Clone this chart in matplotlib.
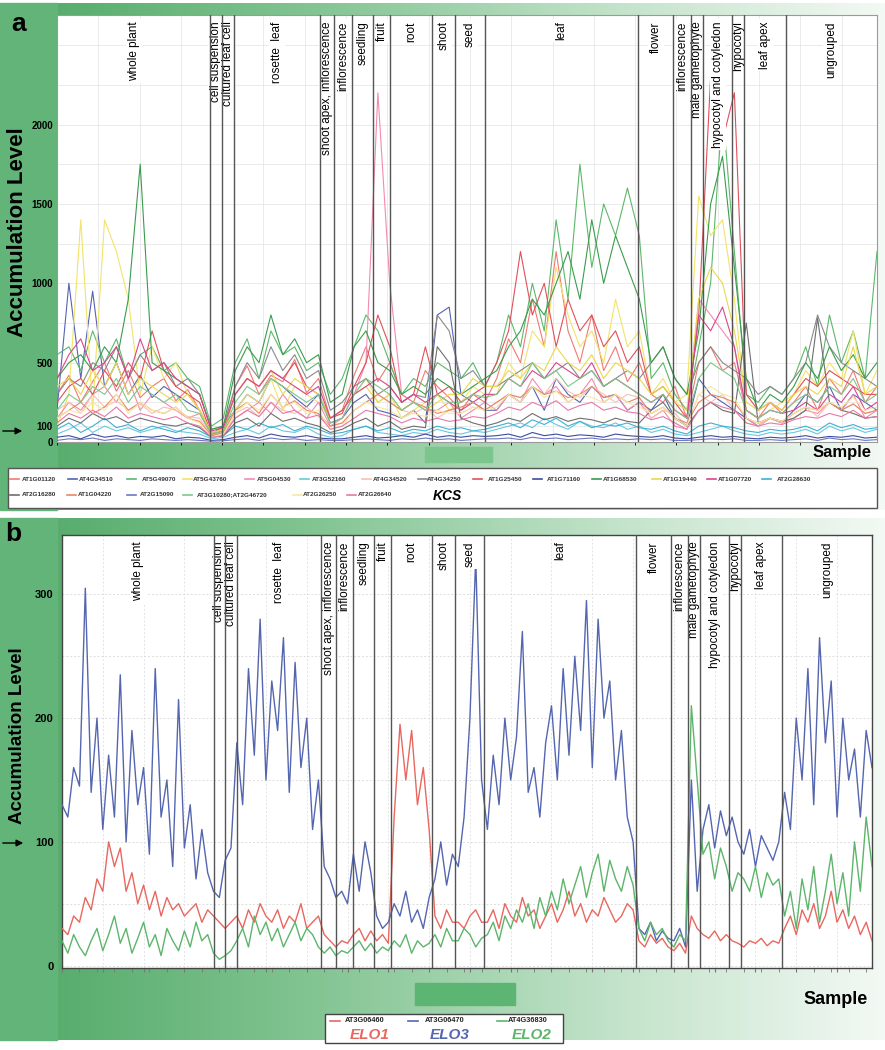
import numpy as np
import matplotlib.pyplot as plt
from matplotlib.colors import LinearSegmentedColormap
from matplotlib.lines import Line2D
from matplotlib.patches import Rectangle
from matplotlib.ticker import MultipleLocator
import matplotlib.transforms as mtrans

plt.rcParams['font.family'] = ['Liberation Sans', 'DejaVu Sans']

W, H = 885, 1050

tissues = ['whole plant', 'cell suspension', 'cultured leaf cell', 'rosette  leaf',
           'shoot apex, inflorescence', 'inflorescence', 'seedling', 'fruit', 'root',
           'shoot', 'seed', 'leaf', 'flower', 'inflorescence', 'male gametophyte',
           'hypocotyl and cotyledon', 'hypocotyl', 'leaf apex', 'ungrouped']
# section borders on the sample axis
borders = [0, 26, 28, 30, 44.5, 47, 50, 53.5, 56.5, 63.5, 67.5, 72.5, 98.5,
           104.5, 107.5, 109.5, 114.5, 116.5, 123.5, 139]

# ---- panel a : KCS genes (70 samples each) ----
at1g01120 = [300, 420, 250, 380, 500, 320, 450, 280, 350, 400, 260, 330, 200, 60, 80,
             350, 480, 300, 420, 380, 520, 310, 400, 150, 200, 420, 600, 380, 500, 300, 250, 450,
             350, 280, 200, 300, 250, 400, 650, 500, 900, 600, 1200, 700, 500, 800, 450, 600, 380, 500,
             300, 250, 350, 150, 500, 600, 450, 500, 200, 150, 250, 180,
             250, 350, 200, 400, 300, 450, 250, 350]
at4g34510 = [200, 1000, 400, 950, 350, 500, 300, 420, 280, 350, 300, 250, 200, 50, 100,
             200, 300, 250, 400, 350, 280, 220, 300, 120, 150, 250, 300, 200, 180, 150, 200, 120,
             800, 850, 300, 250, 200, 200, 300, 250, 350, 200, 400, 300, 250, 350, 280, 300, 200, 250,
             200, 300, 150, 100, 400, 300, 250, 200, 150, 100, 150, 120,
             200, 300, 250, 350, 200, 300, 250, 200]
at5g49070 = [550, 600, 450, 700, 500, 650, 400, 550, 600, 450, 500, 400, 350, 100, 150,
             500, 650, 400, 700, 550, 600, 450, 500, 300, 400, 600, 800, 700, 500, 300, 400, 350,
             500, 450, 400, 500, 350, 500, 800, 600, 1000, 700, 1400, 900, 1750, 1100, 1500, 1300, 1600, 1300,
             400, 500, 300, 200, 600, 1000, 2100, 1200, 300, 250, 350, 300,
             400, 600, 350, 800, 500, 700, 400, 1200]
at5g43760 = [100, 300, 1400, 200, 1400, 1200, 900, 300, 600, 400, 500, 300, 200, 50, 80,
             200, 300, 250, 400, 200, 350, 300, 250, 150, 200, 300, 400, 250, 300, 150, 200, 250,
             300, 200, 250, 350, 300, 300, 500, 400, 700, 600, 1100, 800, 600, 700, 500, 900, 600, 700,
             300, 400, 250, 300, 1550, 1300, 1400, 900, 200, 150, 200, 250,
             300, 450, 350, 500, 400, 700, 300, 450]
at5g04530 = [150, 250, 200, 300, 350, 250, 400, 200, 300, 250, 200, 150, 180, 40, 60,
             150, 200, 250, 180, 300, 200, 150, 250, 100, 150, 300, 500, 2200, 1000, 300, 250, 200,
             200, 250, 150, 200, 250, 200, 300, 250, 400, 300, 350, 250, 300, 400, 250, 300, 200, 250,
             150, 200, 100, 80, 900, 800, 700, 600, 150, 100, 150, 120,
             150, 200, 180, 250, 200, 300, 150, 200]
at3g52160 = [50, 80, 120, 60, 100, 70, 90, 60, 80, 100, 70, 60, 50, 20, 30,
             60, 80, 50, 100, 70, 60, 90, 50, 30, 40, 80, 100, 60, 50, 40, 60, 50,
             80, 60, 50, 70, 60, 80, 100, 120, 90, 150, 110, 80, 130, 100, 90, 120, 80, 100,
             60, 80, 50, 40, 60, 80, 100, 70, 50, 40, 60, 50,
             60, 80, 50, 100, 70, 90, 60, 80]
at4g34520 = [200, 250, 180, 300, 220, 260, 200, 240, 180, 220, 200, 160, 150, 40, 60,
             180, 220, 160, 250, 200, 180, 220, 160, 100, 120, 200, 250, 300, 250, 200, 180, 220,
             150, 200, 180, 220, 200, 250, 300, 280, 350, 300, 400, 320, 280, 350, 300, 250, 300, 280,
             150, 200, 180, 100, 300, 250, 300, 200, 120, 100, 150, 120,
             180, 220, 160, 250, 200, 240, 180, 200]
at4g34250 = [300, 400, 350, 500, 450, 600, 400, 550, 450, 500, 350, 400, 300, 80, 100,
             350, 500, 400, 600, 450, 550, 400, 450, 200, 250, 350, 400, 300, 350, 250, 300, 280,
             800, 700, 400, 450, 350, 350, 400, 450, 500, 400, 450, 500, 400, 450, 350, 400, 450, 400,
             500, 600, 400, 300, 500, 600, 500, 450, 400, 300, 350, 300,
             400, 500, 800, 600, 500, 450, 400, 350]
at1g25450 = [250, 350, 400, 300, 450, 350, 500, 400, 700, 450, 350, 300, 250, 50, 70,
             300, 400, 350, 450, 400, 500, 350, 300, 150, 180, 350, 500, 800, 600, 250, 300, 600,
             300, 350, 250, 300, 350, 500, 700, 1200, 800, 1000, 600, 900, 700, 800, 600, 700, 500, 600,
             300, 350, 250, 150, 800, 2300, 1900, 2200, 300, 200, 250, 200,
             300, 400, 350, 450, 400, 350, 300, 300]
at1g71160 = [30, 40, 20, 50, 30, 40, 25, 35, 30, 40, 20, 30, 25, 10, 15,
             30, 40, 25, 50, 35, 30, 40, 25, 20, 20, 30, 40, 25, 30, 40, 30, 50,
             30, 40, 30, 40, 35, 40, 50, 30, 60, 40, 50, 35, 45, 40, 30, 50, 40, 35,
             30, 40, 25, 20, 30, 40, 30, 35, 25, 20, 30, 25,
             30, 40, 25, 35, 30, 40, 25, 30]
at1g68530 = [400, 500, 550, 450, 600, 500, 900, 1750, 500, 450, 400, 350, 300, 80, 100,
             450, 600, 500, 800, 550, 650, 500, 550, 250, 300, 600, 700, 500, 450, 300, 350, 300,
             400, 350, 300, 350, 400, 450, 600, 700, 900, 800, 1000, 1200, 900, 1400, 1000, 1300, 1100, 900,
             500, 600, 400, 300, 700, 1500, 1800, 1100, 400, 200, 300, 250,
             350, 500, 400, 600, 450, 550, 400, 500]
at1g19440 = [350, 400, 300, 450, 350, 500, 300, 400, 350, 300, 250, 300, 200, 60, 80,
             300, 400, 350, 450, 300, 400, 350, 300, 150, 200, 300, 350, 250, 300, 200, 250, 200,
             250, 300, 300, 400, 350, 350, 450, 400, 500, 450, 600, 500, 450, 550, 400, 500, 450, 400,
             300, 350, 250, 200, 900, 1100, 1000, 700, 250, 200, 250, 200,
             300, 350, 300, 400, 350, 600, 300, 350]
at1g07720 = [400, 550, 650, 450, 500, 600, 400, 650, 450, 500, 400, 350, 300, 70, 90,
             300, 400, 350, 450, 400, 350, 300, 350, 150, 200, 300, 350, 400, 350, 250, 300, 250,
             300, 250, 200, 250, 300, 300, 400, 350, 450, 400, 500, 450, 400, 500, 350, 400, 350, 300,
             250, 300, 200, 150, 800, 700, 850, 600, 200, 150, 200, 180,
             200, 250, 200, 300, 250, 350, 200, 250]
at2g28630 = [80, 120, 60, 100, 150, 90, 110, 70, 100, 80, 60, 90, 70, 30, 40,
             100, 80, 120, 90, 110, 70, 100, 80, 50, 60, 80, 100, 70, 90, 60, 80, 70,
             100, 80, 90, 70, 80, 100, 120, 90, 140, 110, 150, 100, 130, 90, 110, 100, 120, 90,
             80, 100, 70, 50, 100, 120, 100, 90, 70, 60, 80, 70,
             80, 100, 70, 120, 90, 110, 80, 90]
at2g16280 = [100, 150, 120, 180, 140, 160, 120, 150, 130, 110, 100, 120, 90, 30, 40,
             120, 150, 100, 180, 130, 150, 120, 100, 60, 80, 120, 150, 100, 130, 80, 100, 90,
             600, 500, 150, 120, 100, 120, 150, 130, 180, 140, 160, 130, 150, 140, 120, 150, 130, 120,
             200, 250, 150, 100, 200, 250, 200, 180, 750, 120, 150, 130,
             150, 200, 780, 250, 200, 180, 150, 160]
at1g04220 = [150, 200, 250, 180, 220, 300, 200, 250, 200, 180, 220, 150, 130, 40, 60,
             200, 250, 180, 300, 220, 260, 200, 180, 100, 120, 200, 250, 300, 250, 200, 250, 220,
             180, 200, 220, 250, 200, 250, 300, 280, 350, 300, 320, 280, 300, 350, 280, 300, 250, 280,
             180, 220, 150, 120, 250, 300, 280, 250, 150, 120, 150, 130,
             180, 220, 200, 250, 200, 240, 180, 200]
at2g15090 = [10, 20, 15, 25, 10, 20, 15, 10, 20, 15, 10, 15, 10, 5, 8,
             15, 20, 10, 25, 15, 20, 10, 15, 10, 10, 15, 20, 15, 10, 20, 15, 25,
             15, 20, 10, 15, 20, 20, 25, 15, 30, 20, 25, 15, 20, 25, 15, 20, 15, 20,
             15, 20, 10, 10, 15, 20, 15, 20, 10, 10, 15, 10,
             15, 20, 10, 25, 15, 20, 10, 15]
at3g10280 = [200, 300, 250, 350, 300, 400, 250, 350, 300, 250, 300, 200, 180, 50, 70,
             250, 350, 300, 400, 350, 300, 250, 300, 120, 150, 300, 400, 350, 300, 200, 250, 200,
             300, 250, 250, 300, 280, 300, 400, 350, 500, 400, 450, 350, 400, 450, 350, 400, 350, 300,
             250, 300, 200, 150, 400, 500, 450, 400, 200, 150, 200, 180,
             250, 300, 250, 350, 300, 400, 250, 300]
at2g26250 = [150, 200, 180, 250, 200, 300, 180, 250, 200, 180, 220, 150, 120, 30, 50,
             180, 250, 200, 300, 220, 250, 180, 200, 80, 100, 200, 250, 220, 200, 150, 180, 160,
             200, 180, 180, 220, 200, 220, 300, 250, 350, 280, 320, 250, 300, 280, 250, 300, 250, 220,
             180, 220, 150, 100, 300, 350, 300, 280, 150, 120, 150, 130,
             180, 220, 200, 250, 220, 280, 200, 220]
at2g26640 = [120, 180, 150, 200, 160, 220, 150, 180, 160, 140, 160, 120, 100, 30, 40,
             150, 200, 160, 250, 180, 200, 150, 170, 80, 100, 150, 200, 180, 160, 120, 150, 130,
             150, 130, 140, 160, 150, 180, 220, 200, 250, 220, 260, 200, 230, 250, 200, 220, 190, 180,
             140, 160, 120, 80, 200, 250, 220, 200, 120, 100, 120, 110,
             140, 160, 150, 180, 160, 200, 150, 160]

kcs_names = ['AT1G01120', 'AT4G34510', 'AT5G49070', 'AT5G43760', 'AT5G04530', 'AT3G52160',
             'AT4G34520', 'AT4G34250', 'AT1G25450', 'AT1G71160', 'AT1G68530', 'AT1G19440',
             'AT1G07720', 'AT2G28630', 'AT2G16280', 'AT1G04220', 'AT2G15090',
             'AT3G10280;AT2G46720', 'AT2G26250', 'AT2G26640']
kcs_colors = ['#f07a72', '#5563b3', '#5cb86a', '#f2e36a', '#f28bb0', '#67c9e3',
              '#f5c2b4', '#8a8a8a', '#e0505a', '#3e4c9c', '#3a9c4c', '#e9d84e',
              '#d9468f', '#3fb0d3', '#6e6e6e', '#e58a66', '#6a78c4',
              '#7cc888', '#f7e9a2', '#e878a8']
kcs_values = [at1g01120, at4g34510, at5g49070, at5g43760, at5g04530, at3g52160,
              at4g34520, at4g34250, at1g25450, at1g71160, at1g68530, at1g19440,
              at1g07720, at2g28630, at2g16280, at1g04220, at2g15090,
              at3g10280, at2g26250, at2g26640]

# ---- panel b : ELO genes (140 samples each) ----
elo1 = [30, 25, 40, 35, 55, 45, 70, 60, 100, 80, 95, 60, 75, 50, 65, 45, 60, 40, 55, 45, 50, 40, 45, 50, 35, 45,
        40, 35, 30, 35,
        40, 30, 45, 35, 50, 40, 35, 45, 30, 40, 35, 50, 30, 35, 40,
        25, 20, 15, 20, 18, 25, 30, 20, 28, 20, 25, 18,
        120, 195, 150, 190, 130, 160, 110, 40, 30, 45, 35, 35, 30, 40, 45, 35,
        35, 45, 30, 50, 40, 35, 55, 40, 45, 30, 40, 50, 35, 45, 60, 40, 50, 35, 45, 40, 55, 45, 35, 40, 50, 45,
        20, 15, 25, 18, 22, 15, 12, 18, 10, 40, 30, 25, 22, 28, 20, 25, 20, 18,
        15, 20, 18, 22, 16, 20, 18,
        30, 40, 25, 45, 35, 50, 30, 40, 60, 35, 45, 30, 40, 25, 35, 20]
elo3 = [130, 120, 160, 145, 305, 140, 200, 110, 170, 120, 235, 100, 190, 130, 160, 90, 240, 120, 150, 80, 215, 95, 130, 70, 110, 75,
        60, 55, 85, 95,
        180, 130, 240, 170, 280, 150, 230, 190, 265, 140, 245, 160, 200, 110, 150,
        80, 70, 55, 60, 50, 90, 60, 100, 75, 40, 30, 35,
        50, 40, 60, 35, 45, 30, 55, 70, 100, 65, 90, 80, 120, 200, 330, 150,
        110, 170, 130, 200, 150, 185, 270, 140, 160, 120, 180, 210, 150, 240, 170, 250, 190, 295, 160, 280, 200, 230, 150, 190, 120, 100,
        30, 25, 35, 20, 28, 22, 20, 30, 15, 150, 60, 110, 130, 95, 125, 105, 120, 100,
        90, 110, 80, 105, 95, 85, 100,
        140, 110, 200, 150, 240, 130, 265, 180, 230, 120, 200, 150, 175, 120, 190, 160]
elo2 = [20, 10, 25, 15, 8, 20, 30, 12, 25, 40, 18, 30, 10, 22, 35, 15, 25, 8, 30, 20, 12, 28, 15, 35, 20, 25,
        10, 5, 8, 12,
        20, 30, 15, 40, 25, 35, 20, 30, 15, 25, 35, 20, 30, 25, 15,
        10, 15, 8, 12, 10, 15, 20, 12, 18, 10, 15, 12,
        20, 15, 25, 10, 20, 15, 18, 25, 15, 30, 20, 20, 30, 25, 15, 22,
        25, 35, 20, 40, 30, 45, 35, 50, 30, 55, 40, 60, 45, 70, 50, 65, 80, 55, 75, 90, 60, 85, 70, 60, 80, 65,
        30, 20, 35, 25, 30, 20, 15, 25, 20, 210, 150, 90, 100, 70, 95, 80, 60, 75,
        70, 60, 80, 55, 75, 65, 70,
        40, 60, 30, 70, 45, 80, 35, 60, 90, 50, 75, 40, 100, 60, 120, 80]
elo_names = ['AT3G06460', 'AT3G06470', 'AT4G36830']
elo_labels = ['ELO1', 'ELO3', 'ELO2']
elo_colors = ['#e8675f', '#5566b0', '#5cb56a']
elo_values = [elo1, elo3, elo2]


def fx(x):
    return x / W


def fy(y):
    return 1 - y / H


fig = plt.figure(figsize=(W / 100, H / 100), dpi=100)
green = LinearSegmentedColormap.from_list(
    'bg', [(0, '#4fa865'), (0.35, '#82c492'), (0.7, '#c3e3ca'), (1, '#f3f9f4')])
grad = np.linspace(0, 1, 256)[None, :]

# green backgrounds
for top, bot in [(3, 510), (518, 1040)]:
    bg = fig.add_axes([0, fy(bot), 1, (bot - top) / H], zorder=-10)
    bg.imshow(grad, aspect='auto', cmap=green, extent=[0, 1, 0, 1])
    bg.axis('off')
    fig.add_artist(Rectangle((0, fy(bot)), fx(57), (bot - top) / H,
                             transform=fig.transFigure, color='#62b478', zorder=-5))

# scroll bar thumbs
fig.add_artist(Rectangle((fx(425), fy(462)), fx(67), 15 / H, transform=fig.transFigure,
                         color='#7cc68d', zorder=-4))
fig.add_artist(Rectangle((fx(415), fy(1005)), fx(100), 22 / H, transform=fig.transFigure,
                         color='#5db574', zorder=-4))


def draw_sections(ax, fs):
    tr = mtrans.blended_transform_factory(ax.transData, ax.transAxes)
    for b in borders[1:-1]:
        ax.axvline(b, color='#555555', lw=1, zorder=7)
    for i, name in enumerate(tissues):
        xc = (borders[i] + borders[i + 1]) / 2
        ax.text(xc, 0.985, name, rotation=90, ha='center', va='top', fontsize=fs,
                transform=tr, zorder=6,
                bbox=dict(facecolor='white', edgecolor='none', pad=1.5))


# ---------------- panel a ----------------
axA = fig.add_axes([fx(57), fy(442), fx(820), (442 - 15) / H])
xa = np.linspace(0, 139, 70)
for vals, col in zip(kcs_values, kcs_colors):
    axA.plot(xa, vals, color=col, lw=0.8, zorder=4)
axA.set_xlim(0, 139)
axA.set_ylim(0, 2690)
axA.set_yticks([0, 100, 500, 1000, 1500, 2000])
axA.set_yticks(np.arange(0, 2700, 250), minor=True)
axA.set_xticks(np.arange(0, 140, 7), minor=True)
axA.set_xticks([])
axA.tick_params(axis='y', which='both', length=0, labelsize=7, pad=3)
for lab in axA.get_yticklabels():
    lab.set_fontweight('bold')
axA.grid(True, which='both', color='#e8e8e8', lw=0.6)
for s in axA.spines.values():
    s.set_color('#9a9a9a')
    s.set_linewidth(0.8)
draw_sections(axA, 8.5)

fig.text(fx(19), fy(24), 'a', fontsize=19, weight='bold', ha='center', va='center')
fig.text(fx(18), fy(232), 'Accumulation Level', rotation=90, fontsize=16, weight='bold',
         ha='center', va='center')
fig.text(fx(842), fy(452), 'Sample', fontsize=12, weight='bold', ha='center', va='center')
axA.annotate('', xy=(fx(25), fy(431)), xytext=(fx(0), fy(431)), xycoords='figure fraction',
             textcoords='figure fraction', annotation_clip=False,
             arrowprops=dict(arrowstyle='-|>', color='black', lw=1))

# legend a
fig.add_artist(Rectangle((fx(8), fy(508)), fx(869), 40 / H, transform=fig.transFigure,
                         facecolor='white', edgecolor='#555555', lw=1))
row1_dash = [10, 68, 127, 183, 245, 300, 362, 418, 473, 533, 592, 652, 707, 762]
row1_text = [22, 79, 142, 193, 257, 312, 373, 427, 488, 547, 603, 663, 718, 777]
row2_dash = [10, 67, 127, 183, 293, 347]
row2_text = [22, 78, 140, 197, 303, 358]
slots = [(d, t, 479) for d, t in zip(row1_dash, row1_text)] + \
        [(d, t, 495) for d, t in zip(row2_dash, row2_text)]
for (d, t, y), name, col in zip(slots, kcs_names, kcs_colors):
    fig.add_artist(Line2D([fx(d), fx(d + 9)], [fy(y), fy(y)], color=col, lw=1.2,
                          transform=fig.transFigure))
    fig.text(fx(t), fy(y), name, fontsize=4.6, weight='bold', color='#333333',
             ha='left', va='center')
fig.text(fx(433), fy(496), 'KCS', fontsize=10, weight='bold', style='italic',
         ha='left', va='center')

# ---------------- panel b ----------------
axB = fig.add_axes([fx(62), fy(968), fx(810), (968 - 535) / H])
xb = np.arange(len(elo1))
for vals, col in zip(elo_values, elo_colors):
    axB.plot(xb, vals, color=col, lw=1.0, zorder=4)
axB.set_xlim(0, 139)
axB.set_ylim(-2, 348)
axB.set_yticks([0, 100, 200, 300])
axB.set_yticks(np.arange(0, 350, 50), minor=True)
axB.xaxis.set_minor_locator(MultipleLocator(3))
axB.tick_params(axis='y', which='both', length=0, labelsize=8, pad=6)
axB.tick_params(axis='x', which='minor', length=3, color='#777777')
for lab in axB.get_yticklabels():
    lab.set_fontweight('bold')
axB.grid(True, which='both', axis='y', color='#dddddd', lw=0.7, ls=(0, (2, 2)))
axB.set_xticks(np.arange(0, 140, 7), minor=False)
axB.set_xticklabels([])
axB.tick_params(axis='x', which='major', length=3, color='#777777')
axB.grid(True, which='major', axis='x', color='#e4e4e4', lw=0.7, ls=(0, (2, 2)))
for s in axB.spines.values():
    s.set_color('#444444')
    s.set_linewidth(1.0)
draw_sections(axB, 8.5)

fig.text(fx(13), fy(534), 'b', fontsize=19, weight='bold', ha='center', va='center')
fig.text(fx(18), fy(736), 'Accumulation Level', rotation=90, fontsize=13.5, weight='bold',
         ha='center', va='center')
fig.text(fx(836), fy(1000), 'Sample', fontsize=13, weight='bold', ha='center', va='center')
axB.annotate('', xy=(fx(26), fy(843)), xytext=(fx(0), fy(843)), xycoords='figure fraction',
             textcoords='figure fraction', annotation_clip=False,
             arrowprops=dict(arrowstyle='-|>', color='black', lw=1))

# legend b
fig.add_artist(Rectangle((fx(325), fy(1043)), fx(238), 29 / H, transform=fig.transFigure,
                         facecolor='white', edgecolor='#444444', lw=1))
b_dash = [330, 408, 497]
b_text = [345, 425, 508]
b_lab = [350, 430, 512]
for d, t, lx, name, lab, col in zip(b_dash, b_text, b_lab, elo_names, elo_labels, elo_colors):
    fig.add_artist(Line2D([fx(d), fx(d + 10)], [fy(1021), fy(1021)], color=col, lw=1.2,
                          transform=fig.transFigure))
    fig.text(fx(t), fy(1021), name, fontsize=5.3, weight='bold', color='#222222',
             ha='left', va='center')
    fig.text(fx(lx), fy(1035), lab, fontsize=11, style='italic', weight='bold', color=col,
             ha='left', va='center')

fig.savefig('out.png', dpi=100)
